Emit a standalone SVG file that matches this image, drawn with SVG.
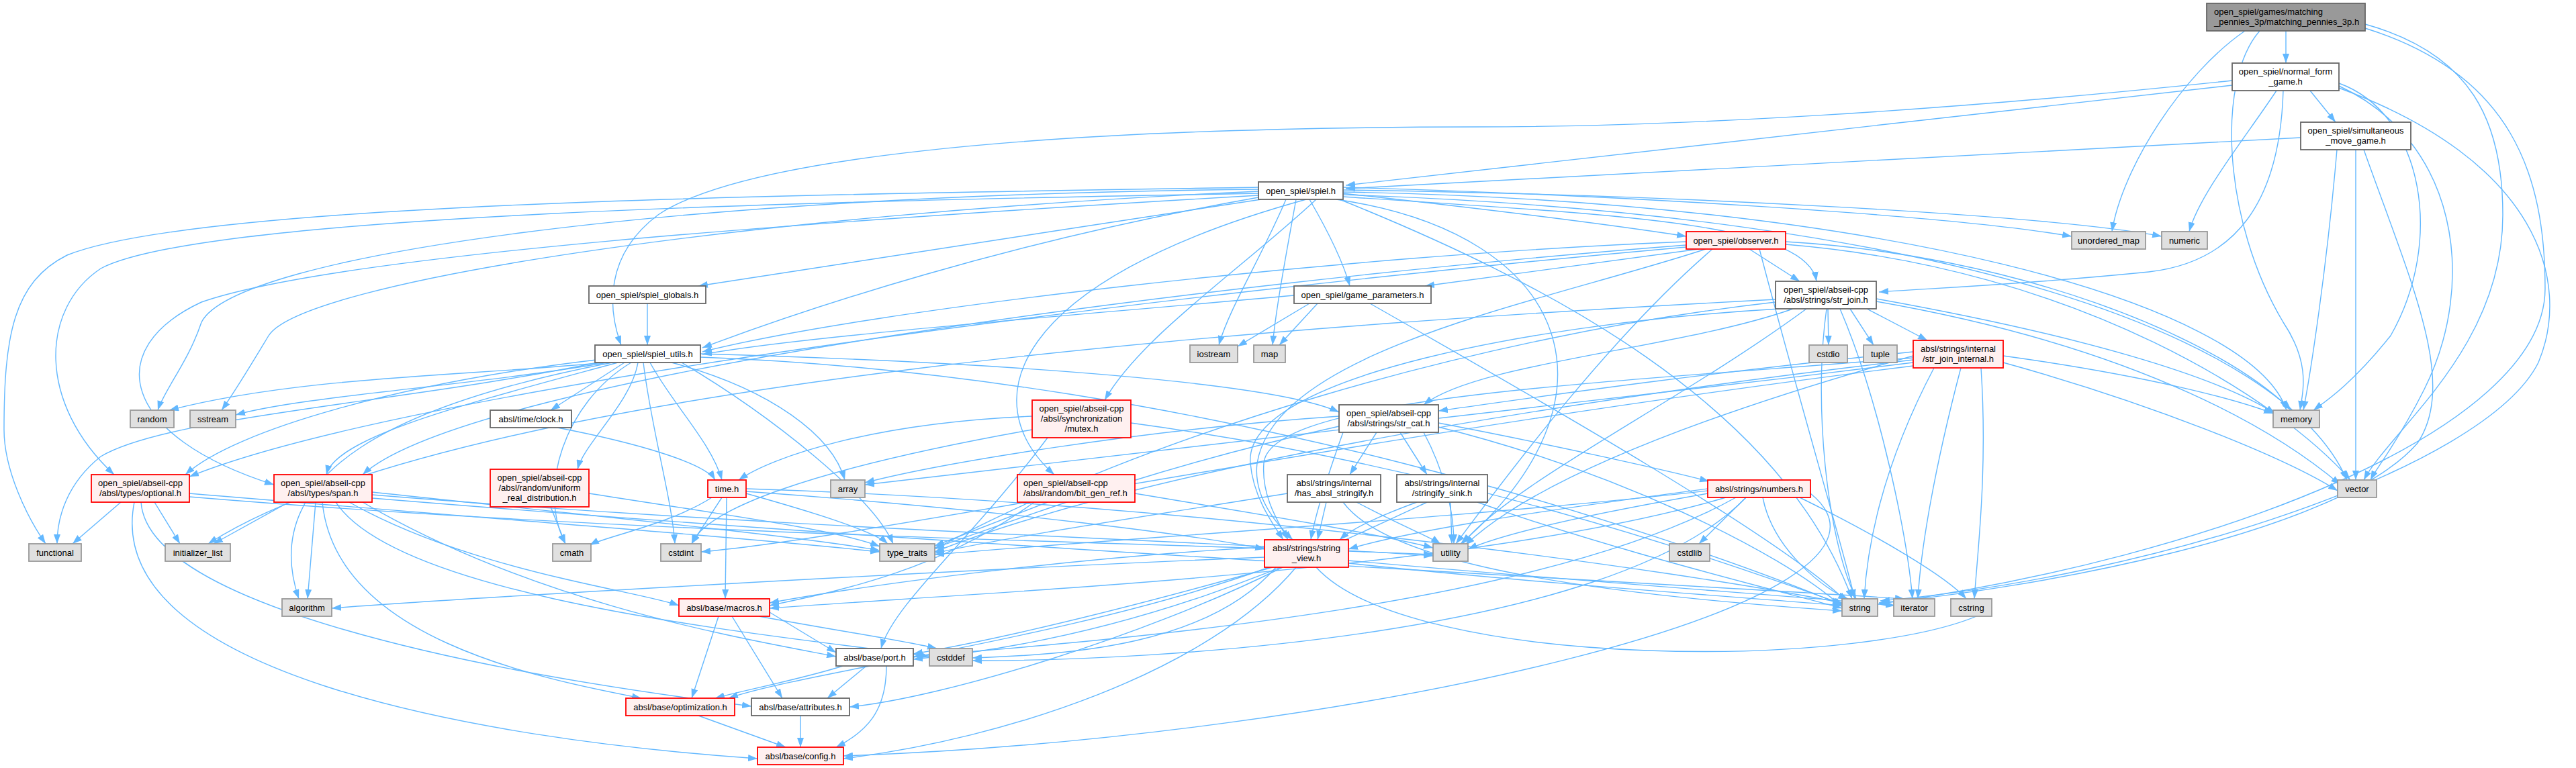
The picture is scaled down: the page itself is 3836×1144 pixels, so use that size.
<svg xmlns="http://www.w3.org/2000/svg" width="3836" height="1144" viewBox="0 0 3836 1144">
<defs>
<marker id="ah" viewBox="0 0 14 10" refX="14" refY="5" markerWidth="14" markerHeight="10" markerUnits="userSpaceOnUse" orient="auto"><path d="M0,0L14,5L0,10z" fill="#63B8FF"/></marker>
</defs>
<style>
.e{fill:none;stroke:#63B8FF;stroke-width:1.4;marker-end:url(#ah)}
.w{fill:#fff;stroke:#666;stroke-width:1.8}
.r{fill:#FFF0F0;stroke:#F00;stroke-width:1.8}
.s{fill:#E0E0E0;stroke:#999;stroke-width:1.8}
.g{fill:#999;stroke:#666;stroke-width:1.8}
text{font-family:"Liberation Sans",Arial,Helvetica,sans-serif;font-size:13px;fill:#000;text-anchor:middle}
.l{text-anchor:start}
</style>
<rect width="3836" height="1144" fill="#fff"/>
<g id="edges">
<path class="e" d="M3404,46 L3404,94"/>
<path class="e" d="M3343,46 C3250,110 3160,250 3145,345"/>
<path class="e" d="M3365,46 C3300,120 3310,330 3400,480 C3440,540 3430,580 3425,611"/>
<path class="e" d="M3522,36 C3680,80 3727,180 3727,320 C3727,520 3560,640 3520,715"/>
<path class="e" d="M3522,42 C3740,110 3790,260 3790,430 C3790,640 3300,830 2796,900"/>
<path class="e" d="M3440,135 L3478,182"/>
<path class="e" d="M3324,127 L2004,276"/>
<path class="e" d="M3324,120 C2900,165 2500,189 2200,189 C1500,190 1100,240 980,320 C900,380 905,460 925,514"/>
<path class="e" d="M3390,135 C3340,210 3275,290 3260,345"/>
<path class="e" d="M3400,135 C3395,300 3330,390 3200,405 C3000,425 2860,430 2798,435"/>
<path class="e" d="M3483,124 C3610,170 3640,360 3560,500 C3500,575 3460,600 3445,611"/>
<path class="e" d="M3483,128 C3660,210 3690,420 3610,580 C3570,660 3540,695 3530,715"/>
<path class="e" d="M3483,131 C3780,240 3830,420 3780,540 C3700,700 3200,860 2800,895"/>
<path class="e" d="M3426,205 L2004,281"/>
<path class="e" d="M3480,223 C3465,400 3440,560 3430,611"/>
<path class="e" d="M3508,223 L3508,715"/>
<path class="e" d="M3520,223 C3590,420 3660,570 3600,660 C3480,800 3000,880 2798,898"/>
<path class="e" d="M2000,288 C2200,310 2400,335 2511,352"/>
<path class="e" d="M1950,297 C1975,340 2000,390 2010,426"/>
<path class="e" d="M2000,293 C2400,320 2690,330 2705,419"/>
<path class="e" d="M1878,297 C1600,340 1200,400 1040,426"/>
<path class="e" d="M1874,294 C1500,360 1200,460 1046,518"/>
<path class="e" d="M1915,297 C1880,380 1830,460 1815,514"/>
<path class="e" d="M1930,297 C1915,380 1900,460 1895,514"/>
<path class="e" d="M2000,279 C2400,290 2900,320 3085,352"/>
<path class="e" d="M2000,283 C2500,290 3050,320 3219,352"/>
<path class="e" d="M2000,286 C2800,300 3350,450 3405,611"/>
<path class="e" d="M2000,290 C2900,320 3400,500 3495,715"/>
<path class="e" d="M1995,297 C2300,420 2650,600 2758,892"/>
<path class="e" d="M1990,297 C2350,350 2420,600 2175,810"/>
<path class="e" d="M1960,297 C1850,400 1700,500 1645,596"/>
<path class="e" d="M1945,297 C1500,420 1450,600 1570,707"/>
<path class="e" d="M1874,282 C1000,290 350,380 300,480 C280,540 245,580 235,611"/>
<path class="e" d="M1874,285 C1100,320 450,420 400,500 C370,550 345,590 330,611"/>
<path class="e" d="M1874,279 C1200,290 300,300 100,380 C20,420 6,500 6,640 C6,700 40,770 68,810"/>
<path class="e" d="M1874,288 C1200,300 300,320 150,400 C60,460 55,600 170,707"/>
<path class="e" d="M1874,291 C1200,330 500,380 300,450 C150,520 180,650 408,722"/>
<path class="e" d="M900,540 C700,560 450,560 252,611"/>
<path class="e" d="M905,540 C700,575 450,590 351,618"/>
<path class="e" d="M930,540 L820,611"/>
<path class="e" d="M950,540 C940,600 870,660 860,699"/>
<path class="e" d="M968,540 C1000,600 1060,660 1075,715"/>
<path class="e" d="M1000,540 C1150,580 1240,650 1258,715"/>
<path class="e" d="M958,540 C970,640 1000,740 1005,810"/>
<path class="e" d="M1015,540 C1150,620 1300,740 1330,810"/>
<path class="e" d="M890,540 C600,600 250,620 150,680 C100,720 85,770 85,810"/>
<path class="e" d="M888,536 C600,570 350,640 276,707"/>
<path class="e" d="M920,540 C700,600 500,650 486,707"/>
<path class="e" d="M912,540 C600,600 380,700 445,892"/>
<path class="e" d="M940,540 C840,600 800,730 842,810"/>
<path class="e" d="M1043,527 C1500,540 1900,570 1994,614"/>
<path class="e" d="M1043,532 C1800,560 2500,800 2745,902"/>
<path class="e" d="M964,452 L964,514"/>
<path class="e" d="M2530,371 L2122,426"/>
<path class="e" d="M2605,371 L2680,419"/>
<path class="e" d="M2511,360 C2000,380 1300,460 1046,524"/>
<path class="e" d="M2511,365 C1800,420 700,560 540,707"/>
<path class="e" d="M2511,368 C1700,440 600,580 282,710"/>
<path class="e" d="M2659,360 C3000,380 3300,500 3412,611"/>
<path class="e" d="M2659,364 C3100,400 3400,600 3500,715"/>
<path class="e" d="M2620,371 C2680,600 2740,800 2762,892"/>
<path class="e" d="M2550,371 C2400,500 2250,700 2168,810"/>
<path class="e" d="M2540,371 C2300,450 1900,520 1872,690 C1866,740 1900,780 1925,804"/>
<path class="e" d="M1927,440 C1600,470 1200,500 1046,528"/>
<path class="e" d="M1950,452 L1843,516"/>
<path class="e" d="M1962,452 L1905,514"/>
<path class="e" d="M2040,452 C2300,600 2650,800 2750,896"/>
<path class="e" d="M2722,460 L2723,514"/>
<path class="e" d="M2755,460 L2790,514"/>
<path class="e" d="M2780,460 L2870,507"/>
<path class="e" d="M2794,445 C3100,500 3300,560 3388,616"/>
<path class="e" d="M2794,449 C3200,520 3400,650 3485,722"/>
<path class="e" d="M2720,460 C2700,600 2720,800 2764,892"/>
<path class="e" d="M2740,460 C2800,600 2840,800 2848,892"/>
<path class="e" d="M2690,460 C2500,600 2250,720 2178,810"/>
<path class="e" d="M2644,450 C2200,500 1700,650 1392,818"/>
<path class="e" d="M2650,460 C2300,480 1850,560 1862,690 C1866,740 1895,780 1911,804"/>
<path class="e" d="M2670,460 C2500,520 2200,540 2120,603"/>
<path class="e" d="M2644,446 C2000,480 700,560 310,810"/>
<path class="e" d="M2983,530 C3200,560 3330,595 3385,616"/>
<path class="e" d="M2880,548 C2800,700 2780,820 2776,892"/>
<path class="e" d="M2920,548 C2880,700 2860,820 2856,892"/>
<path class="e" d="M2950,548 C2960,700 2945,820 2940,892"/>
<path class="e" d="M2849,530 C2600,600 2300,700 2182,812"/>
<path class="e" d="M2849,536 C2300,600 1700,700 1392,822"/>
<path class="e" d="M2849,524 C2500,560 2300,590 2142,612"/>
<path class="e" d="M2849,540 C2200,620 1500,700 1288,722"/>
<path class="e" d="M2849,545 C2000,650 1300,800 1044,822"/>
<path class="e" d="M2849,533 C2400,570 1890,590 1882,690 C1878,740 1905,780 1918,804"/>
<path class="e" d="M2983,540 C3200,600 3400,680 3481,731"/>
<path class="e" d="M2050,644 L2010,707"/>
<path class="e" d="M2085,644 L2125,707"/>
<path class="e" d="M2142,630 C2300,660 2480,700 2545,717"/>
<path class="e" d="M2000,644 C1980,700 1960,760 1952,804"/>
<path class="e" d="M2120,644 C2150,700 2165,760 2165,810"/>
<path class="e" d="M2142,636 C2400,700 2650,820 2743,904"/>
<path class="e" d="M1994,620 C1700,640 1400,690 1288,719"/>
<path class="e" d="M1994,635 C1700,700 1500,780 1392,816"/>
<path class="e" d="M1917,735 C1700,770 1500,800 1392,824"/>
<path class="e" d="M2020,748 C2080,780 2130,800 2145,810"/>
<path class="e" d="M1975,748 L1962,804"/>
<path class="e" d="M2000,748 C2060,830 2300,880 2743,910"/>
<path class="e" d="M2200,748 C2400,820 2650,880 2743,906"/>
<path class="e" d="M2160,748 L2162,810"/>
<path class="e" d="M2110,748 C2050,770 2010,790 1995,804"/>
<path class="e" d="M2125,748 C1950,830 1700,950 1360,982"/>
<path class="e" d="M2600,741 L2530,810"/>
<path class="e" d="M2625,741 C2640,820 2720,880 2752,892"/>
<path class="e" d="M2680,741 C2800,800 2900,860 2928,892"/>
<path class="e" d="M2543,728 C2300,760 2100,790 2008,818"/>
<path class="e" d="M2543,735 C2400,760 2250,790 2186,818"/>
<path class="e" d="M2543,731 C2200,770 1700,800 1392,826"/>
<path class="e" d="M2570,741 C2200,850 1500,880 1146,906"/>
<path class="e" d="M2585,741 C2300,900 1700,950 1360,978"/>
<path class="e" d="M2600,741 C2400,950 1700,985 1448,984"/>
<path class="e" d="M2696,735 C2900,900 2000,1100 1256,1126"/>
<path class="e" d="M1883,830 C1400,850 700,890 494,906"/>
<path class="e" d="M1900,845 C1800,960 1600,975 1448,980"/>
<path class="e" d="M1960,845 C2100,1000 2800,1000 2966,907"/>
<path class="e" d="M2008,835 C2400,870 2700,890 2822,902"/>
<path class="e" d="M2008,839 C2300,870 2600,890 2743,902"/>
<path class="e" d="M1930,845 C1800,1000 1500,1100 1256,1130"/>
<path class="e" d="M1910,845 C1700,950 1400,1040 1265,1053"/>
<path class="e" d="M1883,815 C1600,830 1300,870 1146,898"/>
<path class="e" d="M1890,845 C1600,950 1200,1000 1085,1040"/>
<path class="e" d="M1895,845 C1700,900 1500,950 1360,974"/>
<path class="e" d="M1060,741 C1000,780 900,800 878,812"/>
<path class="e" d="M1075,741 L1030,810"/>
<path class="e" d="M1111,735 C1200,760 1300,790 1322,810"/>
<path class="e" d="M1111,728 C1800,750 2500,850 2743,898"/>
<path class="e" d="M1082,741 L1080,892"/>
<path class="e" d="M1111,732 C1500,760 1800,800 1883,818"/>
<path class="e" d="M830,637 C950,660 1050,690 1065,715"/>
<path class="e" d="M820,755 L842,810"/>
<path class="e" d="M877,735 C1100,770 1250,790 1310,814"/>
<path class="e" d="M1537,620 C1300,630 1150,680 1100,715"/>
<path class="e" d="M1537,640 C1200,700 1050,760 1030,810"/>
<path class="e" d="M1560,652 C1450,800 1330,900 1312,966"/>
<path class="e" d="M1684,630 C2200,700 2600,850 2745,900"/>
<path class="e" d="M1560,748 L1392,813"/>
<path class="e" d="M1690,735 C1900,770 2050,795 2134,816"/>
<path class="e" d="M1540,748 C1400,850 1250,880 1146,902"/>
<path class="e" d="M180,748 L108,810"/>
<path class="e" d="M230,748 L268,810"/>
<path class="e" d="M282,735 C700,770 1100,800 1310,822"/>
<path class="e" d="M282,740 C1000,800 1800,810 2134,826"/>
<path class="e" d="M210,748 C220,900 700,1000 1119,1052"/>
<path class="e" d="M200,748 C150,1000 700,1100 1128,1130"/>
<path class="e" d="M470,748 L458,892"/>
<path class="e" d="M430,748 L318,810"/>
<path class="e" d="M554,733 C900,770 1200,800 1310,820"/>
<path class="e" d="M554,737 C1200,790 1900,810 2134,828"/>
<path class="e" d="M500,748 C600,900 1200,950 1384,978"/>
<path class="e" d="M554,742 C1500,820 2500,870 2836,892"/>
<path class="e" d="M520,748 C700,850 950,880 1011,902"/>
<path class="e" d="M480,748 C500,950 800,1010 955,1040"/>
<path class="e" d="M540,748 C800,900 1100,950 1245,978"/>
<path class="e" d="M1290,992 L1232,1040"/>
<path class="e" d="M1320,992 C1320,1060 1290,1090 1245,1113"/>
<path class="e" d="M1255,992 C1200,1010 1100,1030 1065,1040"/>
<path class="e" d="M1130,918 C1250,940 1350,955 1395,966"/>
<path class="e" d="M1146,912 L1245,972"/>
<path class="e" d="M1090,918 L1165,1040"/>
<path class="e" d="M1070,918 L1030,1040"/>
<path class="e" d="M1040,1066 L1170,1113"/>
<path class="e" d="M1192,1066 L1192,1113"/>
</g>
<g id="n-root"><rect class="g" x="3286" y="5" width="236" height="41"/><text class="l" x="3297" y="22">open_spiel/games/matching</text><text class="l" x="3297" y="37">_pennies_3p/matching_pennies_3p.h</text></g>
<g id="n-normal_form_game"><rect class="w" x="3324" y="94" width="159" height="41"/><text x="3403.5" y="111">open_spiel/normal_form</text><text x="3403.5" y="126">_game.h</text></g>
<g id="n-simultaneous_move_game"><rect class="w" x="3426" y="182" width="164" height="41"/><text x="3508" y="199">open_spiel/simultaneous</text><text x="3508" y="214">_move_game.h</text></g>
<g id="n-spiel"><rect class="w" x="1874" y="271" width="126" height="26"/><text x="1937" y="288.5">open_spiel/spiel.h</text></g>
<g id="n-unordered_map"><rect class="s" x="3085" y="345" width="110" height="26"/><text x="3140" y="362.5">unordered_map</text></g>
<g id="n-numeric"><rect class="s" x="3219" y="345" width="68" height="26"/><text x="3253" y="362.5">numeric</text></g>
<g id="n-observer"><rect class="r" x="2511" y="345" width="148" height="26"/><text x="2585" y="362.5">open_spiel/observer.h</text></g>
<g id="n-spiel_globals"><rect class="w" x="877" y="426" width="174" height="26"/><text x="964" y="443.5">open_spiel/spiel_globals.h</text></g>
<g id="n-game_parameters"><rect class="w" x="1927" y="426" width="204" height="26"/><text x="2029" y="443.5">open_spiel/game_parameters.h</text></g>
<g id="n-str_join"><rect class="w" x="2644" y="419" width="150" height="41"/><text x="2719" y="436">open_spiel/abseil-cpp</text><text x="2719" y="451">/absl/strings/str_join.h</text></g>
<g id="n-spiel_utils"><rect class="w" x="886" y="514" width="157" height="26"/><text x="964.5" y="531.5">open_spiel/spiel_utils.h</text></g>
<g id="n-iostream"><rect class="s" x="1772" y="514" width="71" height="26"/><text x="1807.5" y="531.5">iostream</text></g>
<g id="n-map"><rect class="s" x="1867" y="514" width="47" height="26"/><text x="1890.5" y="531.5">map</text></g>
<g id="n-cstdio"><rect class="s" x="2694" y="514" width="57" height="26"/><text x="2722.5" y="531.5">cstdio</text></g>
<g id="n-tuple"><rect class="s" x="2775" y="514" width="50" height="26"/><text x="2800" y="531.5">tuple</text></g>
<g id="n-str_join_internal"><rect class="r" x="2849" y="507" width="134" height="41"/><text x="2916" y="524">absl/strings/internal</text><text x="2916" y="539">/str_join_internal.h</text></g>
<g id="n-memory"><rect class="s" x="3385" y="611" width="69" height="26"/><text x="3419.5" y="628.5">memory</text></g>
<g id="n-random"><rect class="s" x="194" y="611" width="65" height="26"/><text x="226.5" y="628.5">random</text></g>
<g id="n-sstream"><rect class="s" x="283" y="611" width="68" height="26"/><text x="317" y="628.5">sstream</text></g>
<g id="n-clock"><rect class="w" x="730" y="611" width="121" height="26"/><text x="790.5" y="628.5">absl/time/clock.h</text></g>
<g id="n-uniform_real_distribution"><rect class="r" x="730" y="699" width="147" height="56"/><text x="803.5" y="716">open_spiel/abseil-cpp</text><text x="803.5" y="731">/absl/random/uniform</text><text x="803.5" y="746">_real_distribution.h</text></g>
<g id="n-mutex"><rect class="r" x="1537" y="596" width="147" height="56"/><text x="1610.5" y="613">open_spiel/abseil-cpp</text><text x="1610.5" y="628">/absl/synchronization</text><text x="1610.5" y="643">/mutex.h</text></g>
<g id="n-str_cat"><rect class="w" x="1994" y="603" width="148" height="41"/><text x="2068" y="620">open_spiel/abseil-cpp</text><text x="2068" y="635">/absl/strings/str_cat.h</text></g>
<g id="n-vector"><rect class="s" x="3481" y="715" width="58" height="26"/><text x="3510" y="732.5">vector</text></g>
<g id="n-time"><rect class="r" x="1054" y="715" width="57" height="26"/><text x="1082.5" y="732.5">time.h</text></g>
<g id="n-array"><rect class="s" x="1237" y="715" width="51" height="26"/><text x="1262.5" y="732.5">array</text></g>
<g id="n-bit_gen_ref"><rect class="r" x="1515" y="707" width="175" height="41"/><text class="l" x="1524" y="724">open_spiel/abseil-cpp</text><text class="l" x="1524" y="739">/absl/random/bit_gen_ref.h</text></g>
<g id="n-has_absl_stringify"><rect class="w" x="1917" y="707" width="139" height="41"/><text x="1986.5" y="724">absl/strings/internal</text><text x="1986.5" y="739">/has_absl_stringify.h</text></g>
<g id="n-stringify_sink"><rect class="w" x="2080" y="707" width="135" height="41"/><text x="2147.5" y="724">absl/strings/internal</text><text x="2147.5" y="739">/stringify_sink.h</text></g>
<g id="n-numbers"><rect class="r" x="2543" y="715" width="153" height="26"/><text x="2619.5" y="732.5">absl/strings/numbers.h</text></g>
<g id="n-optional"><rect class="r" x="136" y="707" width="146" height="41"/><text x="209" y="724">open_spiel/abseil-cpp</text><text x="209" y="739">/absl/types/optional.h</text></g>
<g id="n-span"><rect class="r" x="408" y="707" width="146" height="41"/><text x="481" y="724">open_spiel/abseil-cpp</text><text x="481" y="739">/absl/types/span.h</text></g>
<g id="n-functional"><rect class="s" x="43" y="810" width="78" height="26"/><text x="82" y="827.5">functional</text></g>
<g id="n-initializer_list"><rect class="s" x="246" y="810" width="97" height="26"/><text x="294.5" y="827.5">initializer_list</text></g>
<g id="n-cmath"><rect class="s" x="823" y="810" width="57" height="26"/><text x="851.5" y="827.5">cmath</text></g>
<g id="n-cstdint"><rect class="s" x="984" y="810" width="60" height="26"/><text x="1014" y="827.5">cstdint</text></g>
<g id="n-type_traits"><rect class="s" x="1310" y="810" width="82" height="26"/><text x="1351" y="827.5">type_traits</text></g>
<g id="n-utility"><rect class="s" x="2134" y="810" width="52" height="26"/><text x="2160" y="827.5">utility</text></g>
<g id="n-cstdlib"><rect class="s" x="2486" y="810" width="60" height="26"/><text x="2516" y="827.5">cstdlib</text></g>
<g id="n-string_view"><rect class="r" x="1883" y="804" width="125" height="41"/><text x="1945.5" y="821">absl/strings/string</text><text x="1945.5" y="836">_view.h</text></g>
<g id="n-algorithm"><rect class="s" x="420" y="892" width="74" height="26"/><text x="457" y="909.5">algorithm</text></g>
<g id="n-macros"><rect class="r" x="1011" y="892" width="135" height="26"/><text x="1078.5" y="909.5">absl/base/macros.h</text></g>
<g id="n-string"><rect class="s" x="2743" y="892" width="53" height="26"/><text x="2769.5" y="909.5">string</text></g>
<g id="n-iterator"><rect class="s" x="2820" y="892" width="61" height="26"/><text x="2850.5" y="909.5">iterator</text></g>
<g id="n-cstring"><rect class="s" x="2905" y="892" width="61" height="26"/><text x="2935.5" y="909.5">cstring</text></g>
<g id="n-port"><rect class="w" x="1245" y="966" width="115" height="26"/><text x="1302.5" y="983.5">absl/base/port.h</text></g>
<g id="n-cstddef"><rect class="s" x="1384" y="966" width="64" height="26"/><text x="1416" y="983.5">cstddef</text></g>
<g id="n-optimization"><rect class="r" x="932" y="1040" width="162" height="26"/><text x="1013" y="1057.5">absl/base/optimization.h</text></g>
<g id="n-attributes"><rect class="w" x="1119" y="1040" width="146" height="26"/><text x="1192" y="1057.5">absl/base/attributes.h</text></g>
<g id="n-config"><rect class="r" x="1128" y="1113" width="128" height="26"/><text x="1192" y="1130.5">absl/base/config.h</text></g>
</svg>
